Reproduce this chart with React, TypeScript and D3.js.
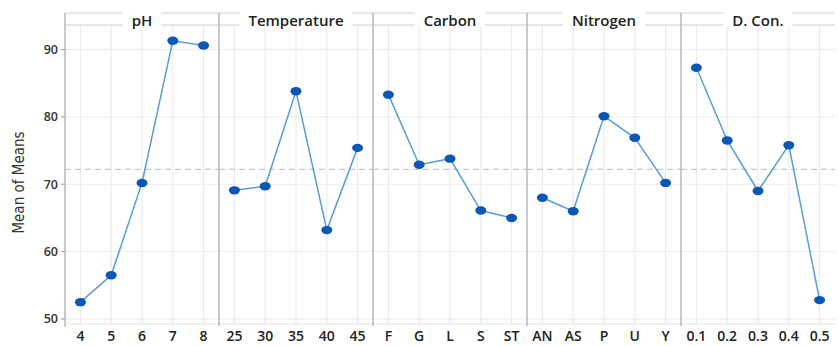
import React, { useEffect, useRef } from 'react';
import * as d3 from 'd3';

const factors = ['pH', 'Temperature', 'Carbon', 'Nitrogen', 'D. Con.'];
const phLevels = ['4', '5', '6', '7', '8'];
const phMeans = [52.5, 56.5, 70.2, 91.3, 90.6];
const tempLevels = ['25', '30', '35', '40', '45'];
const tempMeans = [69.1, 69.7, 83.8, 63.2, 75.4];
const carbonLevels = ['F', 'G', 'L', 'S', 'ST'];
const carbonMeans = [83.3, 72.9, 73.8, 66.1, 65.0];
const nitrogenLevels = ['AN', 'AS', 'P', 'U', 'Y'];
const nitrogenMeans = [68.0, 66.0, 80.1, 76.9, 70.2];
const dconLevels = ['0.1', '0.2', '0.3', '0.4', '0.5'];
const dconMeans = [87.3, 76.5, 69.0, 75.8, 52.8];
const grandMean = 72.2;
const yTicks = [50, 60, 70, 80, 90];

export default function App() {
  const svgRef = useRef(null);
  const width = 839;
  const height = 346;

  useEffect(() => {
    const svg = d3.select(svgRef.current);
    svg.selectAll('*').remove();

    const left = 65, right = 835, stripTop = 13, top = 25, bottom = 324;
    const font = "'Open Sans', 'Noto Sans', sans-serif";
    const panels = [
      { name: factors[0], levels: phLevels, means: phMeans },
      { name: factors[1], levels: tempLevels, means: tempMeans },
      { name: factors[2], levels: carbonLevels, means: carbonMeans },
      { name: factors[3], levels: nitrogenLevels, means: nitrogenMeans },
      { name: factors[4], levels: dconLevels, means: dconMeans },
    ];

    const panelX = d3.scaleBand().domain(factors).range([left, right]).padding(0);
    const y = d3.scaleLinear().domain([49.26, 93.64]).range([bottom, top]);

    // horizontal grid
    svg.append('g').selectAll('line').data(yTicks).join('line')
      .attr('x1', left).attr('x2', right)
      .attr('y1', (d) => y(d)).attr('y2', (d) => y(d))
      .attr('stroke', '#ececec').attr('stroke-width', 1);

    // bottom line
    svg.append('line')
      .attr('x1', left).attr('x2', right).attr('y1', bottom).attr('y2', bottom)
      .attr('stroke', '#e2e2e2');

    panels.forEach((p) => {
      const x0 = panelX(p.name);
      const bw = panelX.bandwidth();
      const x = d3.scalePoint().domain(p.levels).range([x0, x0 + bw]).padding(0.5);
      const g = svg.append('g');

      // vertical grid
      g.selectAll('line.v').data(p.levels).join('line')
        .attr('class', 'v')
        .attr('x1', (d) => x(d)).attr('x2', (d) => x(d))
        .attr('y1', top).attr('y2', bottom)
        .attr('stroke', '#e8e8e8');

      // strip
      g.append('line').attr('x1', x0).attr('x2', x0 + bw).attr('y1', stripTop).attr('y2', stripTop).attr('stroke', '#d0d0d0');
      g.append('line').attr('x1', x0).attr('x2', x0 + bw).attr('y1', top).attr('y2', top).attr('stroke', '#d0d0d0');
      const label = g.append('text')
        .attr('x', x0 + bw / 2).attr('y', top + 1)
        .attr('text-anchor', 'middle')
        .attr('font-family', font).attr('font-size', 15).attr('font-weight', 600)
        .attr('fill', '#222')
        .text(p.name);
      const w = label.node().getComputedTextLength();
      g.insert('rect', 'text')
        .attr('x', x0 + bw / 2 - w / 2 - 9).attr('y', stripTop - 1)
        .attr('width', w + 18).attr('height', top - stripTop + 2)
        .attr('fill', '#fff');

      // x tick labels
      g.selectAll('text.xt').data(p.levels).join('text')
        .attr('class', 'xt')
        .attr('x', (d) => x(d)).attr('y', 341)
        .attr('text-anchor', 'middle')
        .attr('font-family', font).attr('font-size', 14).attr('font-weight', 600)
        .attr('fill', '#222')
        .text((d) => d);

      // dashed grand mean
      g.append('line')
        .attr('x1', x0).attr('x2', x0 + bw)
        .attr('y1', y(grandMean)).attr('y2', y(grandMean))
        .attr('stroke', '#c8c8c8').attr('stroke-dasharray', '6,4').attr('stroke-width', 1.2);

      const line = d3.line()
        .x((d, i) => x(p.levels[i]))
        .y((d) => y(d));
      g.append('path')
        .datum(p.means)
        .attr('fill', 'none')
        .attr('stroke', '#5b9bd5')
        .attr('stroke-width', 1.5)
        .attr('d', line);

      g.selectAll('ellipse').data(p.means).join('ellipse')
        .attr('cx', (d, i) => x(p.levels[i])).attr('cy', (d) => y(d))
        .attr('rx', 5.5).attr('ry', 4.2)
        .attr('fill', '#0b57b5');
    });

    // panel separators
    svg.append('g').selectAll('line').data(factors.slice(1)).join('line')
      .attr('x1', (d) => panelX(d)).attr('x2', (d) => panelX(d))
      .attr('y1', stripTop).attr('y2', bottom + 2)
      .attr('stroke', '#b8b8b8').attr('stroke-width', 1.5);

    // y axis
    svg.append('line')
      .attr('x1', left).attr('x2', left).attr('y1', stripTop).attr('y2', bottom + 3)
      .attr('stroke', '#b8b8b8').attr('stroke-width', 1.5);
    const yt = svg.append('g');
    yt.selectAll('line').data(yTicks).join('line')
      .attr('x1', left - 4).attr('x2', left)
      .attr('y1', (d) => y(d)).attr('y2', (d) => y(d))
      .attr('stroke', '#999');
    yt.selectAll('text').data(yTicks).join('text')
      .attr('x', left - 7).attr('y', (d) => y(d))
      .attr('dy', '0.35em')
      .attr('text-anchor', 'end')
      .attr('font-family', font).attr('font-size', 12.5).attr('font-weight', 600)
      .attr('fill', '#333')
      .text((d) => d);

    svg.append('text')
      .attr('transform', `translate(24,${(top + bottom) / 2 + 8}) rotate(-90)`)
      .attr('text-anchor', 'middle')
      .attr('font-family', "'Liberation Sans Narrow', 'DejaVu Sans Condensed', sans-serif")
      .attr('font-size', 15)
      .attr('fill', '#333')
      .text('Mean of Means');
  }, []);

  return (
    <svg ref={svgRef} width={width} height={height}
      style={{ position: 'absolute', left: 0, top: 0, background: '#fff' }} />
  );
}
